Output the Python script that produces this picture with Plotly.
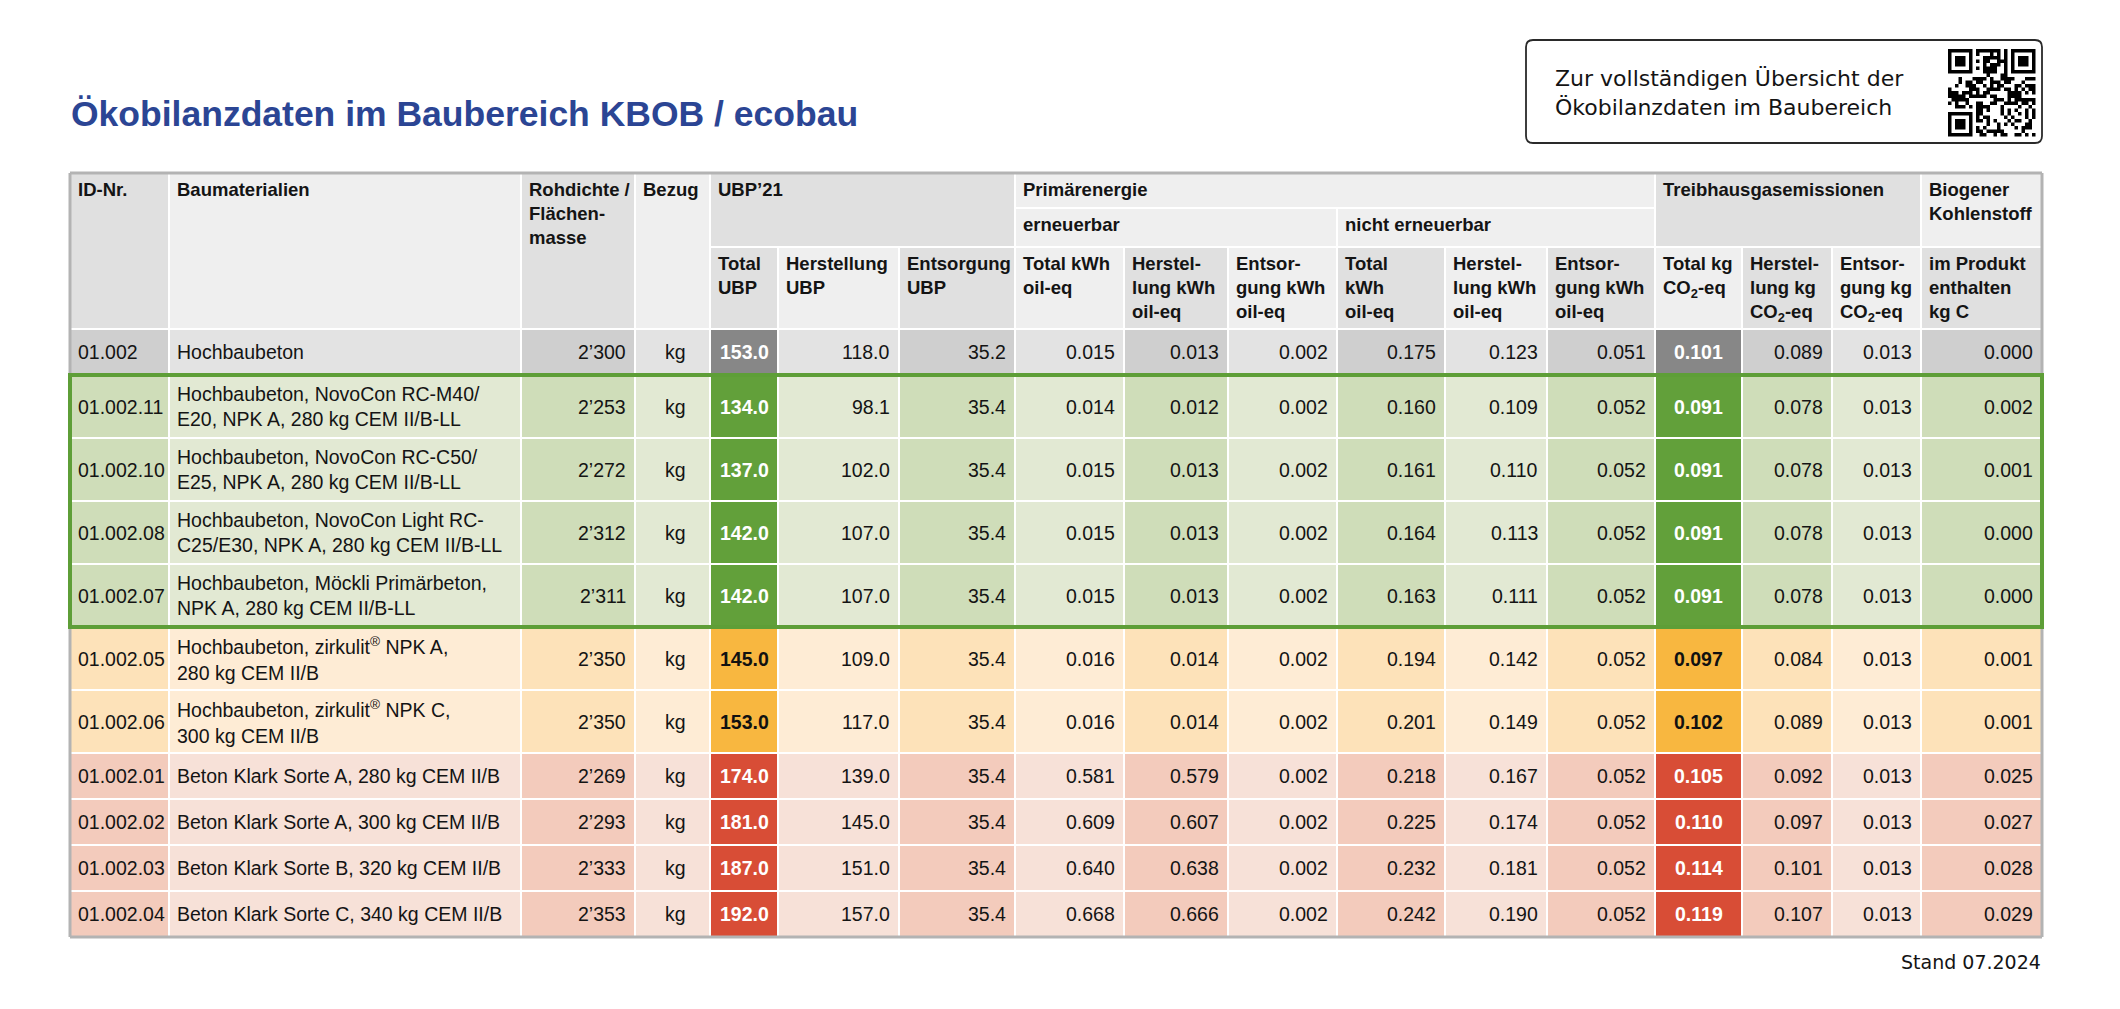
import hashlib
import plotly.graph_objects as go

# ---------------- data ----------------
ids = ["01.002", "01.002.11", "01.002.10", "01.002.08", "01.002.07", "01.002.05",
       "01.002.06", "01.002.01", "01.002.02", "01.002.03", "01.002.04"]
materials = [
    "Hochbaubeton",
    "Hochbaubeton, NovoCon RC-M40/<br>E20, NPK A, 280 kg CEM II/B-LL",
    "Hochbaubeton, NovoCon RC-C50/<br>E25, NPK A, 280 kg CEM II/B-LL",
    "Hochbaubeton, NovoCon Light RC-<br>C25/E30, NPK A, 280 kg CEM II/B-LL",
    "Hochbaubeton, Möckli Primärbeton,<br>NPK A, 280 kg CEM II/B-LL",
    "Hochbaubeton, zirkulit<sup>®</sup> NPK A,<br>280 kg CEM II/B",
    "Hochbaubeton, zirkulit<sup>®</sup> NPK C,<br>300 kg CEM II/B",
    "Beton Klark Sorte A, 280 kg CEM II/B",
    "Beton Klark Sorte A, 300 kg CEM II/B",
    "Beton Klark Sorte B, 320 kg CEM II/B",
    "Beton Klark Sorte C, 340 kg CEM II/B",
]
density = [2300, 2253, 2272, 2312, 2311, 2350, 2350, 2269, 2293, 2333, 2353]
unit = ["kg"] * 11
ubp_total = [153.0, 134.0, 137.0, 142.0, 142.0, 145.0, 153.0, 174.0, 181.0, 187.0, 192.0]
ubp_prod = [118.0, 98.1, 102.0, 107.0, 107.0, 109.0, 117.0, 139.0, 145.0, 151.0, 157.0]
ubp_disp = [35.2, 35.4, 35.4, 35.4, 35.4, 35.4, 35.4, 35.4, 35.4, 35.4, 35.4]
pe_ren_total = [0.015, 0.014, 0.015, 0.015, 0.015, 0.016, 0.016, 0.581, 0.609, 0.640, 0.668]
pe_ren_prod = [0.013, 0.012, 0.013, 0.013, 0.013, 0.014, 0.014, 0.579, 0.607, 0.638, 0.666]
pe_ren_disp = [0.002, 0.002, 0.002, 0.002, 0.002, 0.002, 0.002, 0.002, 0.002, 0.002, 0.002]
pe_nren_total = [0.175, 0.160, 0.161, 0.164, 0.163, 0.194, 0.201, 0.218, 0.225, 0.232, 0.242]
pe_nren_prod = [0.123, 0.109, 0.110, 0.113, 0.111, 0.142, 0.149, 0.167, 0.174, 0.181, 0.190]
pe_nren_disp = [0.051, 0.052, 0.052, 0.052, 0.052, 0.052, 0.052, 0.052, 0.052, 0.052, 0.052]
ghg_total = [0.101, 0.091, 0.091, 0.091, 0.091, 0.097, 0.102, 0.105, 0.110, 0.114, 0.119]
ghg_prod = [0.089, 0.078, 0.078, 0.078, 0.078, 0.084, 0.089, 0.092, 0.097, 0.101, 0.107]
ghg_disp = [0.013, 0.013, 0.013, 0.013, 0.013, 0.013, 0.013, 0.013, 0.013, 0.013, 0.013]
bio_c = [0.000, 0.002, 0.001, 0.000, 0.000, 0.001, 0.001, 0.025, 0.027, 0.028, 0.029]
rating = ["ref", "green", "green", "green", "green", "orange", "orange", "red", "red", "red", "red"]

col_labels = ["ID-Nr.", "Baumaterialien", "Rohdichte /<br>Flächen-<br>masse", "Bezug",
              "Total<br>UBP", "Herstellung<br>UBP", "Entsorgung<br>UBP",
              "Total kWh<br>oil-eq", "Herstel-<br>lung kWh<br>oil-eq", "Entsor-<br>gung kWh<br>oil-eq",
              "Total<br>kWh<br>oil-eq", "Herstel-<br>lung kWh<br>oil-eq", "Entsor-<br>gung kWh<br>oil-eq",
              "Total kg<br>CO<sub>2</sub>-eq", "Herstel-<br>lung kg<br>CO<sub>2</sub>-eq",
              "Entsor-<br>gung kg<br>CO<sub>2</sub>-eq", "im Produkt<br>enthalten<br>kg C"]
# (label, first col, last col, first header row, last header row)
group_labels = [("UBP’21", 4, 6, 0, 1), ("Primärenergie", 7, 12, 0, 0),
                ("erneuerbar", 7, 9, 1, 1), ("nicht erneuerbar", 10, 12, 1, 1),
                ("Treibhausgasemissionen", 13, 15, 0, 1), ("Biogener<br>Kohlenstoff", 16, 16, 0, 1)]
title_text = "Ökobilanzdaten im Baubereich KBOB / ecobau"
box_text = "Zur vollständigen Übersicht der<br>Ökobilanzdaten im Baubereich"
footer_text = "Stand 07.2024"

# ---------------- layout / style ----------------
W, H = 2120, 1009
PAGE_MARGIN = 8
FONT = "Liberation Sans, Arial, sans-serif"
FONT_WIDE = "DejaVu Sans, sans-serif"
TXT = "#141414"
col_edges = [70, 169, 521, 635, 710, 778, 899, 1015, 1124, 1228, 1337, 1445, 1547, 1655, 1742, 1832, 1921, 2042]
hdr_edges = [173, 208, 247, 329]
row_h1, row_h2 = 46, 63
hdr_dark, hdr_light = "#E0E0E0", "#EFEFEF"
group_fill = {"UBP’21": hdr_dark, "Primärenergie": hdr_light, "erneuerbar": hdr_light,
              "nicht erneuerbar": hdr_light, "Treibhausgasemissionen": hdr_dark,
              "Biogener<br>Kohlenstoff": hdr_light}
palette = {
    "ref": ("#CFCFCF", "#E3E3E3", "#878787", "white"),
    "green": ("#CFDDB9", "#E2E9D3", "#62A03A", "white"),
    "orange": ("#FDE2B9", "#FEECD5", "#F8B740", "#111111"),
    "red": ("#F3CBBC", "#F7E1D8", "#D84D36", "white"),
}
hi_cols = (4, 13)
BODY, HEAD = 19.5, 18.5

fig = go.Figure()
shapes, anns = [], []


def rect(x0, y0, x1, y1, fill, lw=2, lc="white"):
    shapes.append(dict(type="rect", xref="x", yref="y", x0=x0, y0=y0, x1=x1, y1=y1,
                       fillcolor=fill, line=dict(color=lc, width=lw), layer="below"))


def text(x, y, s, size=BODY, xa="left", ya="middle", bold=False, color=TXT, family=FONT, align="left"):
    anns.append(dict(x=x, y=y, xref="x", yref="y", text=s, showarrow=False,
                     xanchor=xa, yanchor=ya, align=align, borderpad=0,
                     font=dict(family=family, size=size, color=color,
                               weight=700 if bold else 400)))


for c in range(17):
    fill = hdr_dark if c % 2 == 0 else hdr_light
    top = hdr_edges[0] if c < 4 else hdr_edges[2]
    rect(col_edges[c], top, col_edges[c + 1], hdr_edges[3], fill)
    text(col_edges[c] + 7, top + 5, col_labels[c], size=HEAD, ya="top", bold=True)
for lab, c0, c1, r0, r1 in group_labels:
    rect(col_edges[c0], hdr_edges[r0], col_edges[c1 + 1], hdr_edges[r1 + 1], group_fill[lab])
    text(col_edges[c0] + 7, hdr_edges[r0] + 5, lab, size=HEAD, ya="top", bold=True)

fmt_cols = [
    (ids, lambda v: v, "left"),
    (materials, lambda v: v, "left"),
    (density, lambda v: f"{v:,}".replace(",", "’"), "right"),
    (unit, lambda v: v, "center"),
    (ubp_total, lambda v: f"{v:.1f}", "center"),
    (ubp_prod, lambda v: f"{v:.1f}", "right"),
    (ubp_disp, lambda v: f"{v:.1f}", "right"),
    (pe_ren_total, lambda v: f"{v:.3f}", "right"),
    (pe_ren_prod, lambda v: f"{v:.3f}", "right"),
    (pe_ren_disp, lambda v: f"{v:.3f}", "right"),
    (pe_nren_total, lambda v: f"{v:.3f}", "right"),
    (pe_nren_prod, lambda v: f"{v:.3f}", "right"),
    (pe_nren_disp, lambda v: f"{v:.3f}", "right"),
    (ghg_total, lambda v: f"{v:.3f}", "center"),
    (ghg_prod, lambda v: f"{v:.3f}", "right"),
    (ghg_disp, lambda v: f"{v:.3f}", "right"),
    (bio_c, lambda v: f"{v:.3f}", "right"),
]

y = hdr_edges[3]
green_top = green_bot = None
for r in range(len(ids)):
    h = row_h2 if "<br>" in materials[r] else row_h1
    dark, light, hi, hitxt = palette[rating[r]]
    if rating[r] == "green":
        green_top = y if green_top is None else green_top
        green_bot = y + h
    for c in range(17):
        x0, x1 = col_edges[c], col_edges[c + 1]
        fill = hi if c in hi_cols else (dark if c % 2 == 0 else light)
        rect(x0, y, x1, y + h, fill)
        vals, f, al = fmt_cols[c]
        s = f(vals[r])
        yc = y + h / 2
        if c in hi_cols:
            text((x0 + x1) / 2, yc, s, xa="center", bold=True, color=hitxt)
        elif al == "left":
            text(x0 + 7, yc, s)
        elif al == "center":
            text((x0 + x1) / 2 + 3, yc, s, xa="center")
        else:
            text(x1 - 8, yc, s, xa="right")
    y += h
table_bottom = y

GR = "#B3B3B3"
for (xa, ya, xb, yb) in [(col_edges[0], hdr_edges[0], col_edges[-1], hdr_edges[0]),
                         (col_edges[0], table_bottom, col_edges[-1], table_bottom),
                         (col_edges[0], hdr_edges[0], col_edges[0], table_bottom),
                         (col_edges[-1], hdr_edges[0], col_edges[-1], table_bottom)]:
    shapes.append(dict(type="line", xref="x", yref="y", x0=xa, y0=ya, x1=xb, y1=yb,
                       line=dict(color=GR, width=3)))
shapes.append(dict(type="rect", xref="x", yref="y", x0=col_edges[0], y0=green_top,
                   x1=col_edges[-1], y1=green_bot, line=dict(color="#5E9E37", width=4)))

text(col_edges[0], 114, title_text, size=35.5, bold=True, color="#2B4594")

bx0, by0, bx1, by1, rr = 1526, 40, 2042, 143, 7
path = (f"M {bx0+rr} {by0} L {bx1-rr} {by0} Q {bx1} {by0} {bx1} {by0+rr} "
        f"L {bx1} {by1-rr} Q {bx1} {by1} {bx1-rr} {by1} L {bx0+rr} {by1} "
        f"Q {bx0} {by1} {bx0} {by1-rr} L {bx0} {by0+rr} Q {bx0} {by0} {bx0+rr} {by0} Z")
shapes.append(dict(type="path", xref="x", yref="y", path=path, fillcolor="white",
                   line=dict(color="#2A2A2A", width=1.8)))
text(1554, 92.5, box_text, size=22, family=FONT_WIDE)

# decorative QR-like pattern (deterministic, from a hash)
N = 25
qx0, qy0, ms = 1948, 49, 3.5
grid = [[0] * N for _ in range(N)]
bits = ""
seed = "https://www.kbob.admin.ch/oekobilanzdaten"
k = 0
while len(bits) < N * N:
    bits += bin(int(hashlib.sha256(f"{seed}{k}".encode()).hexdigest(), 16))[2:].zfill(256)
    k += 1
for i in range(N):
    for j in range(N):
        grid[i][j] = int(bits[i * N + j])
for (fi, fj) in [(0, 0), (0, N - 7), (N - 7, 0)]:
    for i in range(-1, 8):
        for j in range(-1, 8):
            ii, jj = fi + i, fj + j
            if 0 <= ii < N and 0 <= jj < N:
                on = (0 <= i <= 6 and 0 <= j <= 6) and (i in (0, 6) or j in (0, 6) or (2 <= i <= 4 and 2 <= j <= 4))
                grid[ii][jj] = 1 if on else 0
qp = []
for i in range(N):
    for j in range(N):
        if grid[i][j]:
            x, yq = qx0 + j * ms, qy0 + i * ms
            qp.append(f"M {x:.2f} {yq:.2f} H {x+ms:.2f} V {yq+ms:.2f} H {x:.2f} Z")
shapes.append(dict(type="path", xref="x", yref="y", path=" ".join(qp),
                   fillcolor="black", line=dict(width=0)))

text(col_edges[-1], 962, footer_text, size=19, xa="right", family=FONT_WIDE)

fig.update_layout(
    width=W - 2 * PAGE_MARGIN, height=H - 2 * PAGE_MARGIN, margin=dict(l=0, r=0, t=0, b=0),
    paper_bgcolor="white", plot_bgcolor="white",
    xaxis=dict(range=[PAGE_MARGIN, W - PAGE_MARGIN], visible=False, fixedrange=True),
    yaxis=dict(range=[H - PAGE_MARGIN, PAGE_MARGIN], visible=False, fixedrange=True),
    shapes=shapes, annotations=anns, showlegend=False,
)
fig.write_html("out.html")
